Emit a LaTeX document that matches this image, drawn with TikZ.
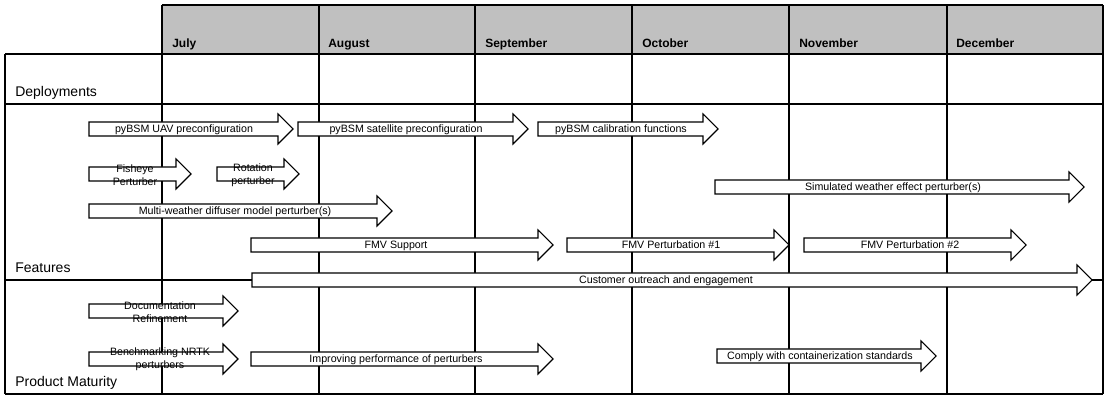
\documentclass[tikz,border=0pt]{standalone}
\usepackage{fontspec}
\setmainfont{Liberation Sans}
\definecolor{hdrgray}{RGB}{192,192,192}
\tikzset{
  gridline/.style={line width=0.8pt},
  blk/.style={draw, fill=white, line width=0.8pt},
  blktext/.style={font=\fontsize{8}{9.5}\selectfont, inner sep=0pt, anchor=base},
  blktwo/.style={font=\fontsize{8}{10}\selectfont, inner sep=0pt, align=center},
  month/.style={font=\fontsize{9}{11}\selectfont\bfseries, inner sep=0pt, anchor=base west},
  rowlbl/.style={font=\fontsize{10.5}{12}\selectfont, inner sep=0pt, anchor=base west}
}
\begin{document}
\begin{tikzpicture}[x=0.75pt, y=-0.75pt]
\useasboundingbox (0,0) rectangle (1111,402);
\fill[hdrgray] (162,5) rectangle (1103,54);
\draw[gridline] (162,5) -- (1103,5);
\draw[gridline] (5,54) -- (1103,54);
\draw[gridline] (5,104) -- (1103,104);
\draw[gridline] (5,280) -- (1103,280);
\draw[gridline] (5,394) -- (1103,394);
\draw[gridline] (5,54) -- (5,394);
\draw[gridline] (162,5) -- (162,394);
\draw[gridline] (319,5) -- (319,394);
\draw[gridline] (475,5) -- (475,394);
\draw[gridline] (632,5) -- (632,394);
\draw[gridline] (789,5) -- (789,394);
\draw[gridline] (947,5) -- (947,394);
\draw[gridline] (1103,5) -- (1103,394);
\node[month] (jul) at (172,47.5) {July};
\node[month] (aug) at (328,47.5) {August};
\node[month] (sep) at (485,47.5) {September};
\node[month] (oct) at (642,47.5) {October};
\node[month] (nov) at (799,47.5) {November};
\node[month] (dec) at (956,47.5) {December};
\node[rowlbl] (deploy) at (15,97) {Deployments};
\node[rowlbl] (feat) at (15,273) {Features};
\node[rowlbl] (maturity) at (15,386.5) {Product Maturity};
% features
\draw[blk] (89,122) -- ++(189,0) -- ++(0,-8) -- ++(15,15) -- ++(-15,15) -- ++(0,-8) -- ++(-189,0) -- cycle;
\node[blktext] (uav) at (184,133) {pyBSM UAV preconfiguration};
\draw[blk] (298,122) -- ++(215,0) -- ++(0,-8) -- ++(15,15) -- ++(-15,15) -- ++(0,-8) -- ++(-215,0) -- cycle;
\node[blktext] (sat) at (406,133) {pyBSM satellite preconfiguration};
\draw[blk] (538,122) -- ++(165,0) -- ++(0,-8) -- ++(15,15) -- ++(-15,15) -- ++(0,-8) -- ++(-165,0) -- cycle;
\node[blktext] (calib) at (621,133) {pyBSM calibration functions};
\draw[blk] (89,167) -- ++(87,0) -- ++(0,-8) -- ++(15,15) -- ++(-15,15) -- ++(0,-8) -- ++(-87,0) -- cycle;
\node[blktwo] (fisheye) at (135,175) {Fisheye\\Perturber};
\draw[blk] (217,167) -- ++(67,0) -- ++(0,-8) -- ++(15,15) -- ++(-15,15) -- ++(0,-8) -- ++(-67,0) -- cycle;
\node[blktwo] (rotation) at (253,175) {Rotation\\perturber};
\draw[blk] (715,180) -- ++(354,0) -- ++(0,-8) -- ++(15,15) -- ++(-15,15) -- ++(0,-8) -- ++(-354,0) -- cycle;
\node[blktext] (simweather) at (893,191) {Simulated weather effect perturber(s)};
\draw[blk] (89,204) -- ++(288,0) -- ++(0,-8) -- ++(15,15) -- ++(-15,15) -- ++(0,-8) -- ++(-288,0) -- cycle;
\node[blktext] (diffuser) at (235,215) {Multi-weather diffuser model perturber(s)};
\draw[blk] (251,238) -- ++(287,0) -- ++(0,-8) -- ++(15,15) -- ++(-15,15) -- ++(0,-8) -- ++(-287,0) -- cycle;
\node[blktext] (fmvsup) at (396,249) {FMV Support};
\draw[blk] (567,238) -- ++(207,0) -- ++(0,-8) -- ++(15,15) -- ++(-15,15) -- ++(0,-8) -- ++(-207,0) -- cycle;
\node[blktext] (fmvone) at (671,249) {FMV Perturbation \#1};
\draw[blk] (804,238) -- ++(207,0) -- ++(0,-8) -- ++(15,15) -- ++(-15,15) -- ++(0,-8) -- ++(-207,0) -- cycle;
\node[blktext] (fmvtwo) at (910,249) {FMV Perturbation \#2};
\draw[blk] (252,273) -- ++(825,0) -- ++(0,-8) -- ++(15,15) -- ++(-15,15) -- ++(0,-8) -- ++(-825,0) -- cycle;
\node[blktext] (outreach) at (666,284) {Customer outreach and engagement};
% product maturity
\draw[blk] (89,304) -- ++(134,0) -- ++(0,-8) -- ++(15,15) -- ++(-15,15) -- ++(0,-8) -- ++(-134,0) -- cycle;
\node[blktwo] (docs) at (160,312) {Documentation\\Refinement};
\draw[blk] (89,352) -- ++(134,0) -- ++(0,-8) -- ++(15,15) -- ++(-15,15) -- ++(0,-8) -- ++(-134,0) -- cycle;
\node[blktwo] (bench) at (160,359.5) {Benchmarking NRTK\\perturbers};
\draw[blk] (251,352) -- ++(287,0) -- ++(0,-8) -- ++(15,15) -- ++(-15,15) -- ++(0,-8) -- ++(-287,0) -- cycle;
\node[blktext] (perf) at (396,363) {Improving performance of perturbers};
\draw[blk] (717,349) -- ++(204,0) -- ++(0,-8) -- ++(15,15) -- ++(-15,15) -- ++(0,-8) -- ++(-204,0) -- cycle;
\node[blktext] (comply) at (820,360) {Comply with containerization standards};
\end{tikzpicture}
\end{document}
